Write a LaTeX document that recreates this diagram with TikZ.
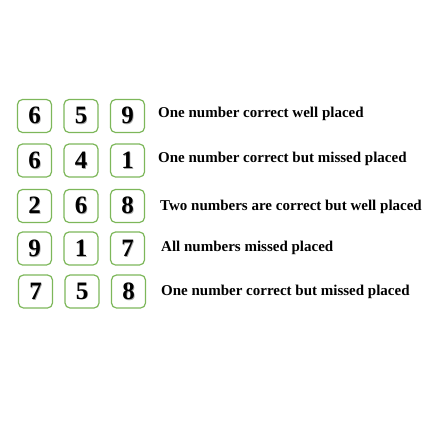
\documentclass[tikz,border=0pt]{standalone}
\usepackage{fontspec}
\setmainfont{Liberation Serif}
\usepackage{tikz}
\usetikzlibrary{calc}
\usepackage{xcolor}
\definecolor{boxgreen}{RGB}{125,183,90}

\newcommand{\shadedigit}[1]{\rlap{\hspace{0.8pt}\raisebox{-0.8pt}{\color{black!35}#1}}#1}

\begin{document}
\begin{tikzpicture}[x=1pt,y=-1pt,auto,node distance=46.5pt,
  digit box/.style={rectangle,rounded corners=5pt,draw=boxgreen,line width=1.2pt,
    minimum width=34pt,minimum height=33pt,inner sep=0pt,
    font=\fontsize{25}{25}\selectfont\bfseries},
  hint/.style={anchor=west,inner sep=0pt,font=\fontsize{15}{18}\selectfont\bfseries}]

  \useasboundingbox (0,0) rectangle (437,424);

  % guess 1
  \node[digit box] (A1) at (34.5,116) {\shadedigit{6}};
  \node[digit box] (B1) [right of=A1] {\shadedigit{5}};
  \node[digit box] (C1) [right of=B1] {\shadedigit{9}};
  % guess 2
  \node[digit box] (A2) at (34.5,160.5) {\shadedigit{6}};
  \node[digit box] (B2) [right of=A2] {\shadedigit{4}};
  \node[digit box] (C2) [right of=B2] {\shadedigit{1}};
  % guess 3
  \node[digit box] (A3) at (34.5,206) {\shadedigit{2}};
  \node[digit box] (B3) [right of=A3] {\shadedigit{6}};
  \node[digit box] (C3) [right of=B3] {\shadedigit{8}};
  % guess 4
  \node[digit box] (A4) at (34.5,248.5) {\shadedigit{9}};
  \node[digit box] (B4) [right of=A4] {\shadedigit{1}};
  \node[digit box] (C4) [right of=B4] {\shadedigit{7}};
  % guess 5
  \node[digit box] (A5) at (35.5,291.5) {\shadedigit{7}};
  \node[digit box] (B5) [right of=A5] {\shadedigit{5}};
  \node[digit box] (C5) [right of=B5] {\shadedigit{8}};

  % hints
  \node[hint] (H1) at (158,113.5) {One number correct well placed};
  \node[hint] (H2) at (158,159) {One number correct but missed placed};
  \node[hint] (H3) at (160,207) {Two numbers are correct but well placed};
  \node[hint] (H4) at (161,247.5) {All numbers missed placed};
  \node[hint] (H5) at (161,292) {One number correct but missed placed};
\end{tikzpicture}
\end{document}
